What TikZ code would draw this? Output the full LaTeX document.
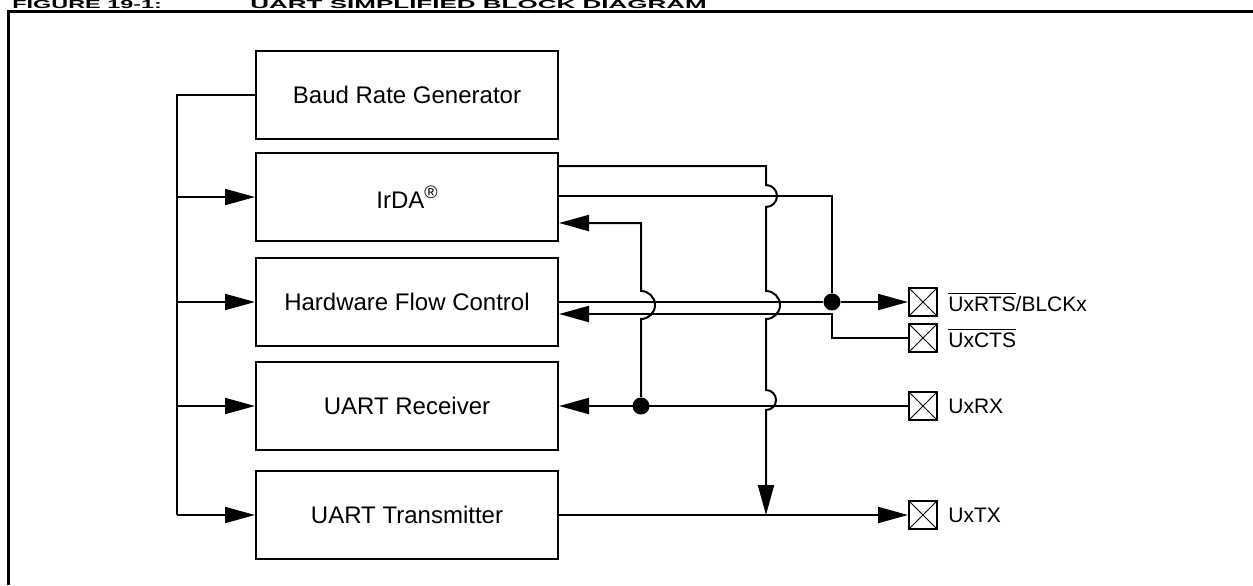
\documentclass[tikz,border=0pt]{standalone}
\usepackage{graphicx}
\usepackage{fontspec}
\setmainfont{Liberation Sans}
\usetikzlibrary{arrows.meta,positioning}

\tikzset{
  blk/.style={draw, line width=1pt, minimum width=151pt, minimum height=44pt, inner sep=0pt, font=\fontsize{12}{14}\selectfont},
  pin/.style={draw, line width=1pt, minimum size=14pt, inner sep=0pt,
    path picture={\draw[line width=0.4pt] (path picture bounding box.south west) -- (path picture bounding box.north east)
      (path picture bounding box.north west) -- (path picture bounding box.south east);}},
  pinlbl/.style={anchor=west, inner sep=0pt, font=\fontsize{10.5}{12}\selectfont},
  captxt/.style={anchor=base west, inner sep=0pt, font=\bfseries\fontsize{13}{15}\selectfont},
  wire/.style={line width=1pt},
  arr/.style={-{Triangle[length=15pt,width=8pt]}},
  jdot/.style={circle, fill, inner sep=0pt, minimum size=8.5pt},
}

\begin{document}
\begin{tikzpicture}[x=0.5pt, y=-0.5pt]
  \useasboundingbox (0,0) rectangle (1253,585);
  % frame and caption
  \draw[line width=1.5pt] (8,585) -- (8,11) -- (1253,11);
  \node (fig) [captxt] at (12,8.5) {\scalebox{0.9}[0.45]{FIGURE 19-1:}};
  \node (ttl) [captxt] at (250,8.5) {\scalebox{1}[0.45]{UART SIMPLIFIED BLOCK DIAGRAM}};

  % blocks
  \node (brg) [blk] at (407,95) {Baud Rate Generator};
  \node (irda) [blk, below=6pt of brg] {IrDA\raisebox{0.75ex}{\fontsize{9}{9}\selectfont\textregistered}};
  \node (hfc) [blk, below=7.5pt of irda] {Hardware Flow Control};
  \node (rx) [blk, below=7pt of hfc] {UART Receiver};
  \node (tx) [blk, below=9.5pt of rx] {UART Transmitter};

  % pins
  \node (prts) [pin] at (hfc.east -| 923,0) {};
  \node (pcts) [pin] at (923,338) {};
  \node (prx) [pin] at (rx.east -| 923,0) {};
  \node (ptx) [pin] at (tx.east -| 923,0) {};
  \node (lrts) [pinlbl] at ([xshift=5pt]prts.east) {$\overline{\mbox{UxRTS}}$/BLCKx};
  \node (lcts) [pinlbl] at ([xshift=5pt]pcts.east) {$\overline{\mbox{UxCTS}}$};
  \node (lrx) [pinlbl] at ([xshift=5pt]prx.east) {UxRX};
  \node (ltx) [pinlbl] at ([xshift=5pt]ptx.east) {UxTX};

  % junctions
  \node (d1) [jdot] at (hfc.east -| 832,0) {};
  \node (d2) [jdot] at (rx.east -| 641,0) {};
  \coordinate (bt) at (177,95);
  \coordinate (jt) at (tx.east -| 766,0);

  % clock bus
  \draw[wire] (brg.west) -- (bt) -- (bt |- tx.west);
  \foreach \b in {irda,hfc,rx,tx}
    \draw[wire,arr] (bt |- \b.west) -- (\b.west);

  % IrDA
  \draw[wire,arr] (irda.east |- 0,166) -- (766,166) -- (766,185)
    arc[start angle=-90, end angle=90, radius=11] -- (766,291)
    arc[start angle=-90, end angle=90, radius=14] -- (766,390)
    arc[start angle=-90, end angle=90, radius=10] -- (jt);
  \draw[wire] (irda.east |- 0,196) -| (d1);
  \draw[wire,arr] (d2) -- (641,319)
    arc[start angle=90, end angle=-90, radius=14] -- (641,223) -- (irda.east |- 0,223);

  % flow control
  \draw[wire] (hfc.east) -- (d1);
  \draw[wire,arr] (d1) -- (prts);
  \draw[wire,arr] (pcts.west) -| (832,314) -- (hfc.east |- 0,314);

  % receiver / transmitter
  \draw[wire,arr] (prx) -- (rx.east);
  \draw[wire,arr] (tx.east) -- (ptx);
\end{tikzpicture}
\end{document}
